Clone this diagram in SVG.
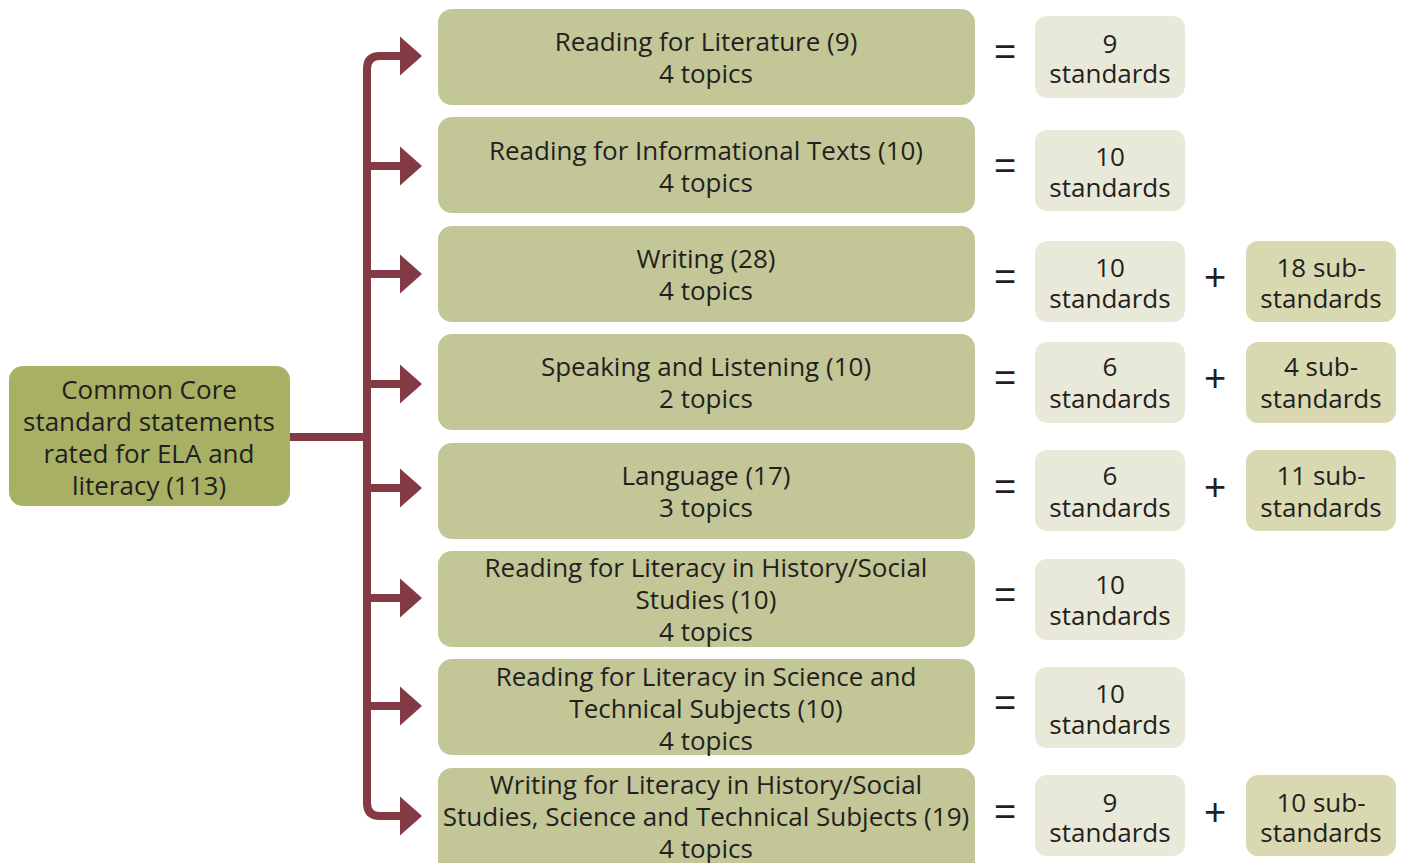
<svg xmlns="http://www.w3.org/2000/svg" width="1404" height="863" viewBox="0 0 1404 863">
<style>
text{font-family:"Open Sans","Noto Sans","Liberation Sans",sans-serif;font-size:26px;fill:#231f20;text-anchor:middle}
.root{fill:#a8b063}
.cat{fill:#c3c697}
.std{fill:#e9e9d9}
.sub{fill:#d9d9b1}
.op{font-family:"Liberation Sans",Arial,sans-serif;font-size:38px}
.conn{fill:none;stroke:#843a44;stroke-width:8}
.ah{fill:#843a44}
</style>
<defs>
<path id="ah" d="M0,-19.5 L22,0 L0,19.5 Z"/>
</defs>
<rect width="1404" height="863" fill="#fff"/>
<g id="connectors">
<path class="conn" d="M290,437 H367"/>
<path class="conn" d="M402,56 H380 Q367,56 367,69 V803 Q367,816 380,816 H402"/>
<path class="conn" d="M367,166 H402 M367,274 H402 M367,384 H402 M367,488 H402 M367,598 H402 M367,706 H402"/>
<use href="#ah" class="ah" x="400" y="56"/>
<use href="#ah" class="ah" x="400" y="166"/>
<use href="#ah" class="ah" x="400" y="274"/>
<use href="#ah" class="ah" x="400" y="384"/>
<use href="#ah" class="ah" x="400" y="488"/>
<use href="#ah" class="ah" x="400" y="598"/>
<use href="#ah" class="ah" x="400" y="706"/>
<use href="#ah" class="ah" x="400" y="816"/>
</g>
<g id="root">
<rect class="root" x="9" y="366" width="281" height="140" rx="14"/>
<text x="149" y="399">Common Core</text>
<text x="149" y="431">standard statements</text>
<text x="149" y="463">rated for ELA and</text>
<text x="149" y="495">literacy (113)</text>
</g>
<g id="row1">
<rect class="cat" x="438" y="9" width="537" height="96" rx="14"/>
<text x="706" y="51">Reading for Literature (9)</text>
<text x="706" y="83">4 topics</text>
<text class="op" x="1005" y="65">=</text>
<rect class="std" x="1035" y="16" width="150" height="82" rx="12"/>
<text x="1110" y="53">9</text>
<text x="1110" y="83">standards</text>
</g>
<g id="row2">
<rect class="cat" x="438" y="117" width="537" height="96" rx="14"/>
<text x="706" y="160">Reading for Informational Texts (10)</text>
<text x="706" y="192">4 topics</text>
<text class="op" x="1005" y="179">=</text>
<rect class="std" x="1035" y="130" width="150" height="81" rx="12"/>
<text x="1110" y="166">10</text>
<text x="1110" y="197">standards</text>
</g>
<g id="row3">
<rect class="cat" x="438" y="226" width="537" height="96" rx="14"/>
<text x="706" y="268">Writing (28)</text>
<text x="706" y="300">4 topics</text>
<text class="op" x="1005" y="290">=</text>
<rect class="std" x="1035" y="241" width="150" height="81" rx="12"/>
<text x="1110" y="277">10</text>
<text x="1110" y="308">standards</text>
<text class="op" x="1215" y="290">+</text>
<rect class="sub" x="1246" y="241" width="150" height="81" rx="12"/>
<text x="1321" y="277">18 sub-</text>
<text x="1321" y="308">standards</text>
</g>
<g id="row4">
<rect class="cat" x="438" y="334" width="537" height="96" rx="14"/>
<text x="706" y="376">Speaking and Listening (10)</text>
<text x="706" y="408">2 topics</text>
<text class="op" x="1005" y="391">=</text>
<rect class="std" x="1035" y="342" width="150" height="81" rx="12"/>
<text x="1110" y="376">6</text>
<text x="1110" y="408">standards</text>
<text class="op" x="1215" y="391">+</text>
<rect class="sub" x="1246" y="342" width="150" height="81" rx="12"/>
<text x="1321" y="376">4 sub-</text>
<text x="1321" y="408">standards</text>
</g>
<g id="row5">
<rect class="cat" x="438" y="443" width="537" height="96" rx="14"/>
<text x="706" y="485">Language (17)</text>
<text x="706" y="517">3 topics</text>
<text class="op" x="1005" y="500">=</text>
<rect class="std" x="1035" y="450" width="150" height="81" rx="12"/>
<text x="1110" y="485">6</text>
<text x="1110" y="517">standards</text>
<text class="op" x="1215" y="500">+</text>
<rect class="sub" x="1246" y="450" width="150" height="81" rx="12"/>
<text x="1321" y="485">11 sub-</text>
<text x="1321" y="517">standards</text>
</g>
<g id="row6">
<rect class="cat" x="438" y="551" width="537" height="96" rx="14"/>
<text x="706" y="577">Reading for Literacy in History/Social</text>
<text x="706" y="609">Studies (10)</text>
<text x="706" y="641">4 topics</text>
<text class="op" x="1005" y="608">=</text>
<rect class="std" x="1035" y="559" width="150" height="81" rx="12"/>
<text x="1110" y="594">10</text>
<text x="1110" y="625">standards</text>
</g>
<g id="row7">
<rect class="cat" x="438" y="659" width="537" height="96" rx="14"/>
<text x="706" y="686">Reading for Literacy in Science and</text>
<text x="706" y="718">Technical Subjects (10)</text>
<text x="706" y="750">4 topics</text>
<text class="op" x="1005" y="716">=</text>
<rect class="std" x="1035" y="667" width="150" height="81" rx="12"/>
<text x="1110" y="703">10</text>
<text x="1110" y="734">standards</text>
</g>
<g id="row8">
<rect class="cat" x="438" y="768" width="537" height="110" rx="14"/>
<text x="706" y="794">Writing for Literacy in History/Social</text>
<text x="706" y="826">Studies, Science and Technical Subjects (19)</text>
<text x="706" y="858">4 topics</text>
<text class="op" x="1005" y="825">=</text>
<rect class="std" x="1035" y="775" width="150" height="81" rx="12"/>
<text x="1110" y="812">9</text>
<text x="1110" y="842">standards</text>
<text class="op" x="1215" y="825">+</text>
<rect class="sub" x="1246" y="775" width="150" height="81" rx="12"/>
<text x="1321" y="812">10 sub-</text>
<text x="1321" y="842">standards</text>
</g>
</svg>
